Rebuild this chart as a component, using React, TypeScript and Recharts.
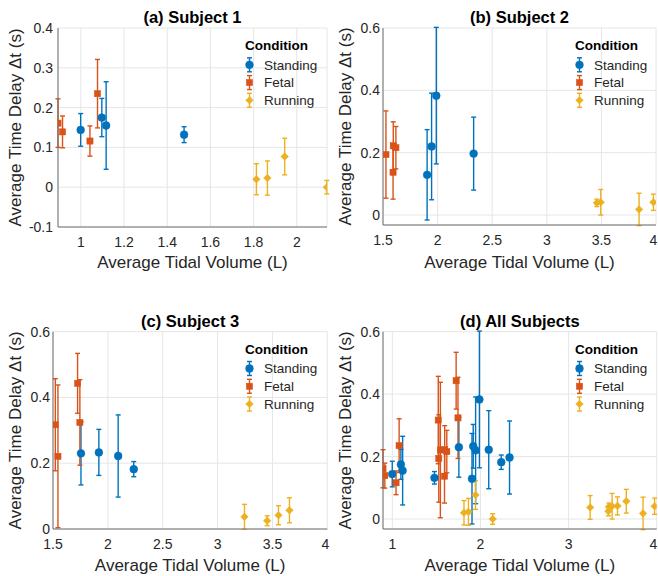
import React from 'react';
import { ScatterChart, Scatter, XAxis, YAxis, CartesianGrid, ErrorBar, Customized } from 'recharts';

type Pt = { x: number; y: number; e: number };

const conditionNames = ['Standing', 'Fetal', 'Running'];
const conditionColors = ['#0072BD', '#D95319', '#EDB120'];
const markerKinds = ['circle', 'square', 'diamond'];

// Subject 1
const s1Standing: Pt[] = [
  { x: 0.999, y: 0.144, e: 0.041 },
  { x: 1.097, y: 0.175, e: 0.048 },
  { x: 1.117, y: 0.155, e: 0.11 },
  { x: 1.478, y: 0.132, e: 0.02 },
];
const s1Fetal: Pt[] = [
  { x: 0.894, y: 0.161, e: 0.061 },
  { x: 0.915, y: 0.139, e: 0.04 },
  { x: 1.042, y: 0.116, e: 0.038 },
  { x: 1.077, y: 0.235, e: 0.086 },
];
const s1Running: Pt[] = [
  { x: 1.813, y: 0.02, e: 0.039 },
  { x: 1.864, y: 0.023, e: 0.043 },
  { x: 1.944, y: 0.077, e: 0.046 },
  { x: 2.139, y: 0.0, e: 0.017 },
];

// Subject 2
const s2Standing: Pt[] = [
  { x: 1.904, y: 0.129, e: 0.145 },
  { x: 1.945, y: 0.22, e: 0.171 },
  { x: 1.988, y: 0.383, e: 0.219 },
  { x: 2.33, y: 0.197, e: 0.117 },
];
const s2Fetal: Pt[] = [
  { x: 1.527, y: 0.194, e: 0.14 },
  { x: 1.594, y: 0.222, e: 0.077 },
  { x: 1.592, y: 0.137, e: 0.086 },
  { x: 1.618, y: 0.216, e: 0.068 },
];
const s2Running: Pt[] = [
  { x: 3.458, y: 0.039, e: 0.012 },
  { x: 3.494, y: 0.041, e: 0.041 },
  { x: 3.845, y: 0.018, e: 0.052 },
  { x: 3.976, y: 0.041, e: 0.026 },
];

// Subject 3
const s3Standing: Pt[] = [
  { x: 1.755, y: 0.23, e: 0.096 },
  { x: 1.918, y: 0.233, e: 0.07 },
  { x: 2.094, y: 0.222, e: 0.125 },
  { x: 2.236, y: 0.182, e: 0.023 },
];
const s3Fetal: Pt[] = [
  { x: 1.521, y: 0.317, e: 0.14 },
  { x: 1.545, y: 0.221, e: 0.217 },
  { x: 1.724, y: 0.443, e: 0.091 },
  { x: 1.745, y: 0.324, e: 0.13 },
];
const s3Running: Pt[] = [
  { x: 3.245, y: 0.037, e: 0.038 },
  { x: 3.452, y: 0.025, e: 0.015 },
  { x: 3.555, y: 0.042, e: 0.029 },
  { x: 3.655, y: 0.057, e: 0.038 },
];

const allStanding = [...s1Standing, ...s2Standing, ...s3Standing];
const allFetal = [...s1Fetal, ...s2Fetal, ...s3Fetal];
const allRunning = [...s1Running, ...s2Running, ...s3Running];

const xTicksA = [1, 1.2, 1.4, 1.6, 1.8, 2];
const xTicksBC = [1.5, 2, 2.5, 3, 3.5, 4];
const xTicksD = [1, 2, 3, 4];
const yTicksA = [-0.1, 0, 0.1, 0.2, 0.3, 0.4];
const yTicksBCD = [0, 0.2, 0.4, 0.6];

const titles = ['(a) Subject 1', '(b) Subject 2', '(c) Subject 3', '(d) All Subjects'];
const xLabel = 'Average Tidal Volume (L)';
const yLabel = 'Average Time Delay \u0394t (s)';
const legendTitle = 'Condition';

const FONT = '"Liberation Sans", Arial, Helvetica, sans-serif';
const Y_AXIS_W = 40;
const X_AXIS_H = 30;

const panels = [
  {
    title: titles[0], left: 0, top: 0, width: 330, height: 288,
    margin: { top: 28, right: 3, bottom: 31, left: 18 },
    xDomain: [0.894, 2.14], xTicks: xTicksA, yDomain: [-0.1, 0.4], yTicks: yTicksA,
    series: [s1Standing, s1Fetal, s1Running], yTickMargin: 5, xLabelY: 268,
  },
  {
    title: titles[1], left: 330, top: 0, width: 328, height: 288,
    margin: { top: 28, right: 2, bottom: 33, left: 13 },
    xDomain: [1.5, 4], xTicks: xTicksBC, yDomain: [-0.032, 0.6], yTicks: yTicksBCD,
    series: [s2Standing, s2Fetal, s2Running], yTickMargin: 3, xLabelY: 268,
  },
  {
    title: titles[2], left: 0, top: 288, width: 330, height: 288,
    margin: { top: 43.7, right: 2.7, bottom: 17, left: 13 },
    xDomain: [1.5, 4], xTicks: xTicksBC, yDomain: [0, 0.6], yTicks: yTicksBCD,
    series: [s3Standing, s3Fetal, s3Running], yTickMargin: 3, xLabelY: 283,
  },
  {
    title: titles[3], left: 330, top: 288, width: 328, height: 288,
    margin: { top: 43.7, right: 1.3, bottom: 17, left: 13 },
    xDomain: [0.894, 4], xTicks: xTicksD, yDomain: [-0.032, 0.6], yTicks: yTicksBCD,
    series: [allStanding, allFetal, allRunning], yTickMargin: 3, xLabelY: 283,
  },
];

function Marker({ kind, cx, cy, color }: { kind: string; cx: number; cy: number; color: string }) {
  if (cx == null || cy == null || isNaN(cx) || isNaN(cy)) return null;
  if (kind === 'circle') return <circle cx={cx} cy={cy} r={3.9} fill={color} stroke={color} strokeWidth={0.5} />;
  if (kind === 'square') return <rect x={cx - 3.1} y={cy - 3.1} width={6.2} height={6.2} fill={color} stroke={color} strokeWidth={0.5} />;
  const d = 3.8;
  return (
    <polygon
      points={`${cx},${cy - d} ${cx + d},${cy} ${cx},${cy + d} ${cx - d},${cy}`}
      fill={color}
      stroke={color}
      strokeWidth={0.5}
    />
  );
}

const fmt = (v: number) => String(Number(v.toFixed(2)));

function makeXTick(chartWidth: number) {
  return (props: any) => {
    const { x, y, payload } = props;
    const label = fmt(payload.value);
    const halfW = label.length * 4;
    const px = Math.min(x, chartWidth - halfW - 0.5);
    return (
      <text x={px} y={y} dy="0.71em" textAnchor="middle" fontSize={14} fill="#262626" fontFamily={FONT}>
        {label}
      </text>
    );
  };
}

function Decor({ p }: { p: any }) {
  const plotLeft = p.margin.left + Y_AXIS_W;
  const plotRight = p.width - p.margin.right;
  const plotTop = p.margin.top;
  const plotBottom = p.height - p.margin.bottom - X_AXIS_H;
  const cx = (plotLeft + plotRight) / 2;
  const cy = (plotTop + plotBottom) / 2;
  const legX = 245;
  const iconX = 249.5;
  const textX = 264;
  const rows = [36.8, 54.6, 72.3];
  return (
    <g style={{ fontFamily: FONT }}>
      <text x={cx} y={plotTop - 5} textAnchor="middle" fontSize={16.5} fontWeight="bold" fill="#000">
        {p.title}
      </text>
      <text x={cx} y={p.xLabelY} textAnchor="middle" fontSize={17} fill="#262626">
        {xLabel}
      </text>
      <text transform={`translate(21, ${cy}) rotate(-90)`} textAnchor="middle" fontSize={17} fill="#262626">
        {yLabel}
      </text>
      <text x={legX} y={plotTop + 22} fontSize={13.5} fontWeight="bold" fill="#000">
        {legendTitle}
      </text>
      {conditionNames.map((name, i) => {
        const y = plotTop + rows[i];
        const c = conditionColors[i];
        return (
          <g key={name}>
            <line x1={iconX} x2={iconX} y1={y - 7} y2={y + 7} stroke={c} strokeWidth={1.4} />
            <line x1={iconX - 2.5} x2={iconX + 2.5} y1={y - 7} y2={y - 7} stroke={c} strokeWidth={1.4} />
            <line x1={iconX - 2.5} x2={iconX + 2.5} y1={y + 7} y2={y + 7} stroke={c} strokeWidth={1.4} />
            <Marker kind={markerKinds[i]} cx={iconX} cy={y} color={c} />
            <text x={textX} y={y + 4.8} fontSize={13.5} fill="#262626">
              {name}
            </text>
          </g>
        );
      })}
    </g>
  );
}

function Panel({ p }: { p: any }) {
  return (
    <div style={{ position: 'absolute', left: p.left, top: p.top, width: p.width, height: p.height }}>
      <ScatterChart width={p.width} height={p.height} margin={p.margin}>
        <CartesianGrid stroke="#e6e6e6" strokeWidth={1} />
        <XAxis
          type="number"
          dataKey="x"
          domain={p.xDomain}
          ticks={p.xTicks}
          allowDataOverflow
          interval={0}
          height={X_AXIS_H}
          tickLine={false}
          tickSize={0}
          tickMargin={10}
          tickFormatter={fmt}
          axisLine={{ stroke: '#6e6e6e', strokeWidth: 1 }}
          tick={makeXTick(p.width)}
        />
        <YAxis
          type="number"
          dataKey="y"
          domain={p.yDomain}
          ticks={p.yTicks}
          allowDataOverflow
          interval={0}
          width={Y_AXIS_W}
          tickLine={false}
          tickSize={0}
          tickMargin={p.yTickMargin}
          tickFormatter={fmt}
          axisLine={{ stroke: '#6e6e6e', strokeWidth: 1 }}
          tick={{ fontSize: 14, fill: '#262626', fontFamily: FONT }}
        />
        {p.series.map((data: Pt[], i: number) => (
          <Scatter
            key={conditionNames[i]}
            name={conditionNames[i]}
            data={data}
            fill={conditionColors[i]}
            isAnimationActive={false}
            shape={(props: any) => (
              <Marker kind={markerKinds[i]} cx={props.cx} cy={props.cy} color={conditionColors[i]} />
            )}
          >
            <ErrorBar
              dataKey="e"
              direction="y"
              width={2.5}
              stroke={conditionColors[i]}
              strokeWidth={1.4}
              isAnimationActive={false}
            />
          </Scatter>
        ))}
        <Customized component={() => <Decor p={p} />} />
      </ScatterChart>
    </div>
  );
}

export default function App() {
  return (
    <div
      style={{
        position: 'absolute',
        left: 0,
        top: 0,
        width: 658,
        height: 576,
        background: '#fff',
        fontFamily: FONT,
      }}
    >
      {panels.map((p) => (
        <Panel key={p.title} p={p} />
      ))}
    </div>
  );
}
